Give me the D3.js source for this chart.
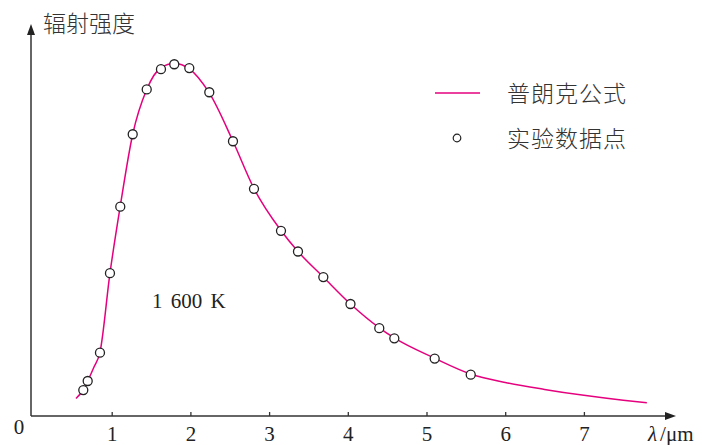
<!DOCTYPE html>
<html>
<head>
<meta charset="utf-8">
<script src="https://cdn.jsdelivr.net/npm/d3@7"></script>
<style>
  body { margin: 0; background: #fff; }
  .serif { font-family: "Liberation Serif", "DejaVu Serif", serif; fill: #222; }
  .cjk { font-family: "Noto Sans CJK SC", sans-serif; font-weight: 300; fill: #333; }
</style>
</head>
<body>
<div id="chart"></div>
<script>
// tick labels on the wavelength axis
var lambdaTicks = [1, 2, 3, 4, 5, 6, 7];

// Planck curve (wavelength in um, relative intensity)
var curveLambda = [0.546, 0.639, 0.695, 0.775, 0.851, 0.978, 1.109, 1.267, 1.445, 1.626, 1.795, 1.986,
                   2.240, 2.541, 2.808, 3.151, 3.367, 3.689, 4.034, 4.400, 4.591, 5.104, 5.562,
                   6.0, 6.5, 7.0, 7.5, 7.80];
var curveIntensity = [5.0, 7.5, 10.0, 14.0, 18.2, 40.8, 60.0, 80.5, 93.3, 99.5, 100.7, 99.2,
                      92.3, 78.5, 65.0, 53.0, 47.0, 39.7, 32.0, 25.2, 22.3, 16.5, 12.0,
                      9.6, 7.6, 5.9, 4.5, 3.8];

// experimental points
var dataLambda = [0.639, 0.695, 0.851, 0.978, 1.109, 1.267, 1.445, 1.626, 1.795, 1.986, 2.240,
                  2.541, 2.808, 3.151, 3.367, 3.689, 4.034, 4.400, 4.591, 5.104, 5.562];
var dataIntensity = [7.4, 10.0, 18.1, 40.8, 59.8, 80.5, 93.3, 99.1, 100.5, 99.4, 92.5,
                     78.5, 64.9, 52.9, 47.0, 39.7, 32.0, 25.1, 22.2, 16.4, 11.8];

var legendLabels = ["普朗克公式", "实验数据点"];

var W = 702, H = 445;
var pink = "#e5007e", axisColor = "#333";

var svg = d3.select("#chart").append("svg")
    .attr("width", W)
    .attr("height", H);

var x = d3.scaleLinear().domain([0, 8]).range([33, 33 + 8 * 78.7]);
var y = d3.scaleLinear().domain([0, 110]).range([416, 31]);

// axes lines with arrows
var x0 = x(0) - 2, y0 = y(0);
var xEnd = x(8.17), yEnd = y(112);

svg.append("line")
    .attr("x1", x0).attr("y1", y0).attr("x2", xEnd - 6).attr("y2", y0)
    .attr("stroke", axisColor).attr("stroke-width", 1.5);
svg.append("path")
    .attr("d", "M" + xEnd + "," + y0 + "L" + (xEnd - 11) + "," + (y0 - 4) + "L" + (xEnd - 11) + "," + (y0 + 4) + "Z")
    .attr("fill", "#222");

svg.append("line")
    .attr("x1", x0).attr("y1", y0).attr("x2", x0).attr("y2", yEnd + 6)
    .attr("stroke", axisColor).attr("stroke-width", 1.5);
svg.append("path")
    .attr("d", "M" + x0 + "," + yEnd + "L" + (x0 - 4) + "," + (yEnd + 11) + "L" + (x0 + 4) + "," + (yEnd + 11) + "Z")
    .attr("fill", "#222");

// ticks
var xAxis = d3.axisBottom(x)
    .tickValues(lambdaTicks)
    .tickSizeInner(-4)
    .tickSizeOuter(0)
    .tickFormat(d3.format("d"));

var gx = svg.append("g")
    .attr("transform", "translate(0," + y0 + ")")
    .call(xAxis);
gx.select(".domain").remove();
gx.selectAll(".tick line").attr("stroke", axisColor).attr("stroke-width", 1.3);
gx.selectAll(".tick text")
    .attr("class", "serif")
    .attr("y", 25)
    .attr("dy", 0)
    .style("font-size", "21px")
    .style("font-family", "'Liberation Serif', serif")
    .attr("fill", "#222");

// origin label
svg.append("text")
    .attr("class", "serif")
    .attr("x", x0 - 12)
    .attr("y", y0 + 18)
    .attr("text-anchor", "middle")
    .style("font-size", "21px")
    .text("0");

// axis titles
var xt = svg.append("text")
    .attr("class", "serif")
    .attr("x", 648)
    .attr("y", y0 + 25)
    .style("font-size", "21px");
xt.append("tspan").style("font-style", "italic").text("λ");
xt.append("tspan").attr("dx", 3).text("/μm");

svg.append("text")
    .attr("class", "cjk")
    .attr("x", 43)
    .attr("y", 32)
    .style("font-size", "23px")
    .text("辐射强度");

// temperature note
svg.append("text")
    .attr("class", "serif")
    .attr("x", 152)
    .attr("y", 308)
    .style("font-size", "21px")
    .style("word-spacing", "3px")
    .text("1 600 K");

// Planck curve
var line = d3.line()
    .x(function(d, i) { return x(curveLambda[i]); })
    .y(function(d, i) { return y(curveIntensity[i]); })
    .curve(d3.curveMonotoneX);

svg.append("path")
    .datum(curveLambda)
    .attr("d", line)
    .attr("fill", "none")
    .attr("stroke", pink)
    .attr("stroke-width", 1.5);

// data points
svg.selectAll(".pt")
    .data(dataLambda)
    .enter().append("circle")
    .attr("class", "pt")
    .attr("cx", function(d) { return x(d); })
    .attr("cy", function(d, i) { return y(dataIntensity[i]); })
    .attr("r", 4.5)
    .attr("fill", "#fff")
    .attr("stroke", "#222")
    .attr("stroke-width", 1.3);

// legend
var legend = svg.selectAll(".legend")
    .data(legendLabels)
    .enter().append("g")
    .attr("class", "legend")
    .attr("transform", function(d, i) { return "translate(435," + (93 + i * 45) + ")"; });

legend.filter(function(d, i) { return i === 0; })
    .append("line")
    .attr("x1", 0).attr("x2", 45)
    .attr("y1", 0).attr("y2", 0)
    .attr("stroke", pink)
    .attr("stroke-width", 1.5);

legend.filter(function(d, i) { return i === 1; })
    .append("circle")
    .attr("cx", 22).attr("cy", 0)
    .attr("r", 3.8)
    .attr("fill", "#fff")
    .attr("stroke", "#222")
    .attr("stroke-width", 1.2);

legend.append("text")
    .attr("class", "cjk")
    .attr("x", 72)
    .attr("y", 9)
    .style("font-size", "23px")
    .style("letter-spacing", "1px")
    .text(function(d) { return d; });
</script>
</body>
</html>
